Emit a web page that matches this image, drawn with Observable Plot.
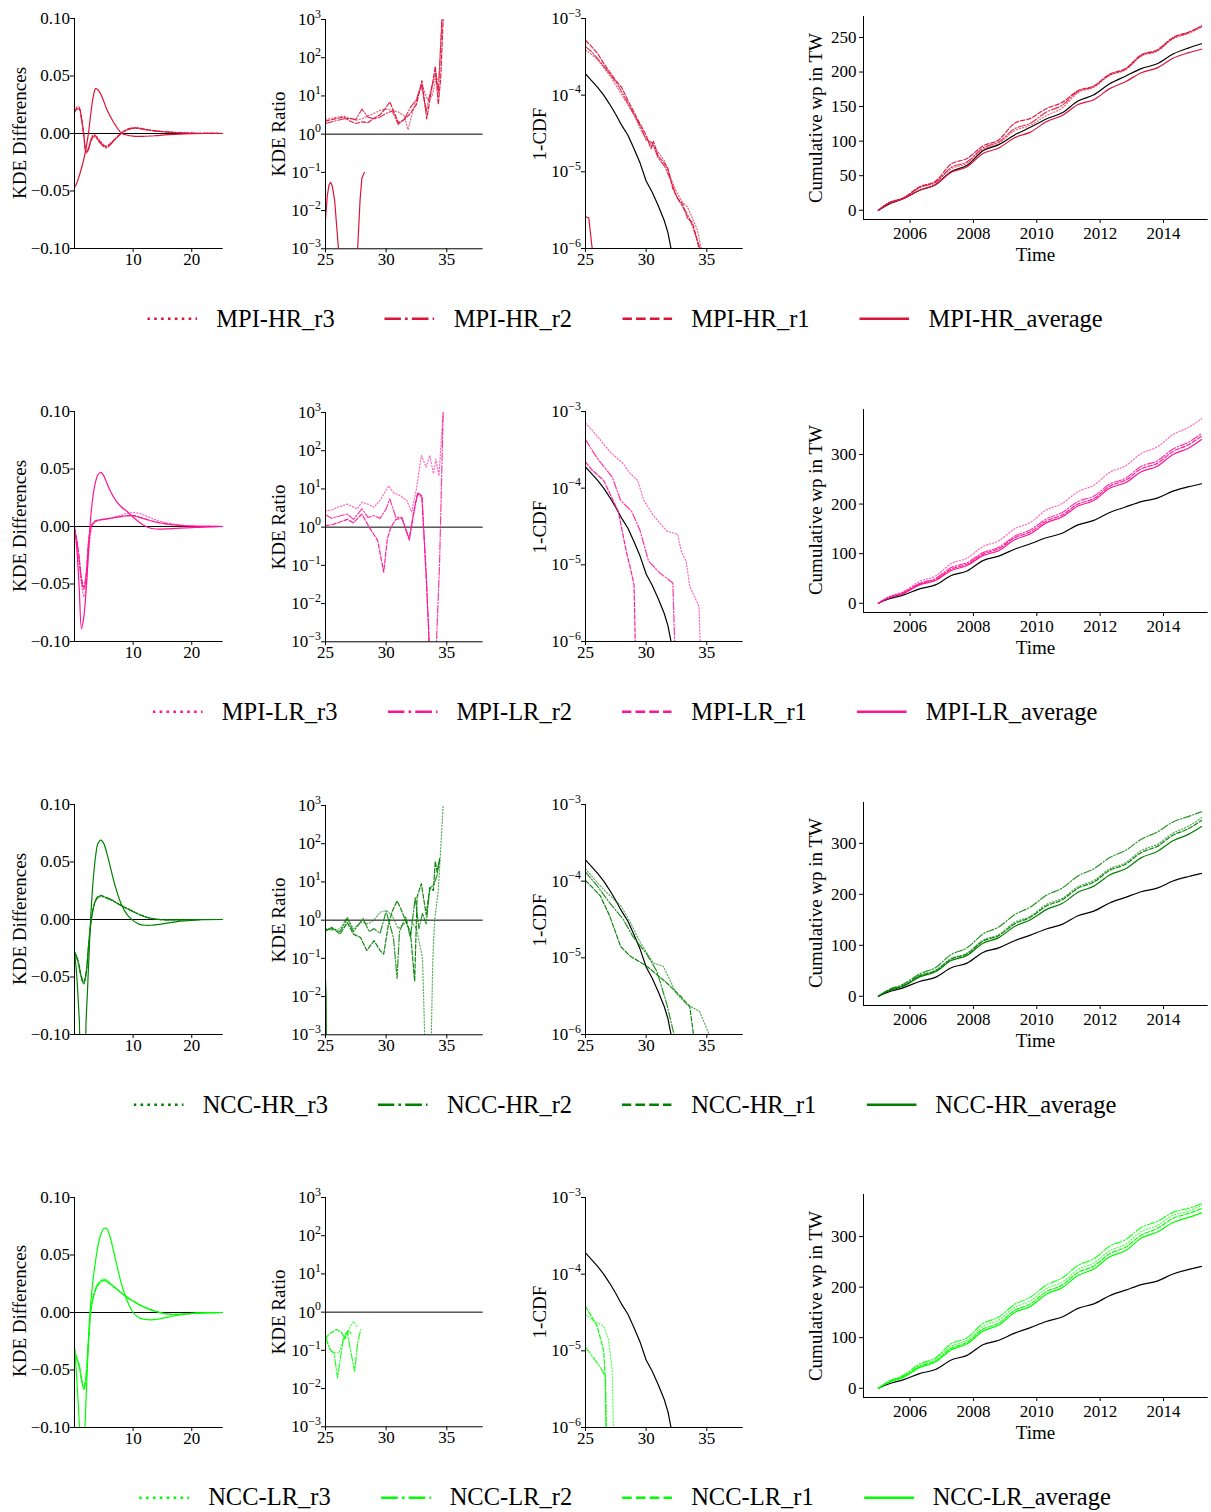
<!DOCTYPE html>
<html><head><meta charset="utf-8">
<script src="https://cdn.jsdelivr.net/npm/d3@7"></script>
<script src="https://cdn.jsdelivr.net/npm/@observablehq/plot@0.6"></script>
<style>
body{margin:0;background:#fff;}
#fig{position:relative;width:1211px;height:1512px;overflow:hidden;font-family:"Liberation Serif","Times New Roman",serif;color:#000;}
.ylab{position:absolute;font-size:19px;line-height:1;white-space:nowrap;transform:translate(-50%,-50%) rotate(-90deg);}
.xlab{position:absolute;font-size:19px;line-height:1;white-space:nowrap;transform:translate(-50%,-50%);}
.legend{position:absolute;display:flex;align-items:center;transform:translate(-50%,-50%);font-size:24.5px;line-height:1;white-space:nowrap;}
.item{display:flex;align-items:center;}
.item + .item{margin-left:50px;}
.item span{margin-left:19px;}
</style></head><body><div id="fig"></div>
<script>
// ---------------- DATA ----------------
const modelNames = ["MPI-HR", "MPI-LR", "NCC-HR", "NCC-LR"];
const modelColors = ["#DC143C", "#FF1493", "#008000", "#00FF00"];
const legendRuns = ["r3", "r2", "r1", "average"];

// KDE differences: shared x grid
const diffX = [0,0.4,0.8,1.2,1.6,2.0,2.4,2.8,3.2,3.6,4.0,4.5,5.0,5.5,6.0,7,8,9,10,11,12,13,14,16,18,20,22,25.3];
const diffTicks = [-0.1,-0.05,0,0.05,0.1];

const MPIHR_diff_avg = [-0.047,-0.043,-0.037,-0.030,-0.022,-0.012,0.001,0.018,0.032,0.039,0.038,0.034,0.028,0.021,0.016,0.007,0.0005,-0.0015,-0.0023,-0.0025,-0.0024,-0.0022,-0.0018,-0.001,-0.0005,-0.0002,0,0];
const MPIHR_diff_r1 = [0.019,0.022,0.022,0.013,-0.002,-0.016,-0.013,-0.006,-0.002,-0.002,-0.005,-0.008,-0.0105,-0.0115,-0.0095,-0.0045,0.0003,0.0035,0.0048,0.0046,0.0036,0.0028,0.0021,0.0013,0.0007,0.0003,0.0001,0];
const MPIHR_diff_r2 = [0.018,0.021,0.021,0.012,-0.003,-0.017,-0.014,-0.007,-0.003,-0.003,-0.006,-0.009,-0.0115,-0.0125,-0.0105,-0.005,0,0.003,0.0044,0.0043,0.0034,0.0026,0.002,0.0012,0.0006,0.0003,0.0001,0];
const MPIHR_diff_r3 = [0.020,0.023,0.023,0.014,-0.001,-0.015,-0.012,-0.005,-0.001,-0.0015,-0.004,-0.007,-0.0098,-0.0108,-0.009,-0.004,0.0006,0.0038,0.0051,0.0049,0.0038,0.003,0.0023,0.0014,0.0007,0.0003,0.0001,0];

const MPILR_diff_avg = [0,-0.02,-0.053,-0.089,-0.078,-0.054,-0.020,0.010,0.028,0.039,0.045,0.047,0.044,0.038,0.032,0.023,0.017,0.013,0.008,0.004,0.0005,-0.0015,-0.0022,-0.002,-0.0015,-0.001,-0.0005,0];
const MPILR_diff_r1 = [-0.002,-0.012,-0.027,-0.045,-0.053,-0.040,-0.013,0.000,0.003,0.005,0.0055,0.006,0.0063,0.0066,0.007,0.008,0.0088,0.0095,0.0095,0.0082,0.0065,0.005,0.0037,0.002,0.0008,0.0003,0.0001,0];
const MPILR_diff_r2 = [-0.002,-0.013,-0.029,-0.047,-0.055,-0.042,-0.015,-0.001,0.003,0.0048,0.0054,0.006,0.0062,0.0066,0.007,0.0078,0.0086,0.0092,0.0094,0.0083,0.0067,0.0052,0.0038,0.002,0.0009,0.0003,0.0001,0];
const MPILR_diff_r3 = [-0.002,-0.014,-0.032,-0.050,-0.061,-0.052,-0.025,-0.005,0.002,0.004,0.005,0.0055,0.006,0.0065,0.007,0.0085,0.010,0.0115,0.012,0.0115,0.0095,0.0075,0.0055,0.003,0.0014,0.0005,0.0002,0];

const NCCHR_diff_avg = [-0.028,-0.05,-0.085,-0.115,-0.115,-0.085,-0.04,0.005,0.035,0.055,0.066,0.069,0.066,0.058,0.048,0.028,0.013,0.004,-0.001,-0.004,-0.005,-0.005,-0.0045,-0.003,-0.0015,-0.0007,-0.0002,0];
const NCCHR_diff_r1 = [-0.028,-0.032,-0.040,-0.050,-0.054,-0.045,-0.022,-0.002,0.010,0.017,0.020,0.021,0.020,0.019,0.018,0.015,0.012,0.0095,0.007,0.0045,0.0025,0.001,0.0002,-0.0004,-0.0003,-0.0001,0,0];
const NCCHR_diff_r2 = [-0.030,-0.034,-0.042,-0.052,-0.056,-0.047,-0.024,-0.003,0.009,0.016,0.019,0.020,0.0195,0.0185,0.0175,0.0148,0.012,0.0093,0.0068,0.0044,0.0024,0.001,0.0002,-0.0004,-0.0003,-0.0001,0,0];
const NCCHR_diff_r3 = [-0.029,-0.033,-0.041,-0.051,-0.055,-0.046,-0.023,-0.002,0.010,0.0165,0.0195,0.0205,0.0198,0.019,0.018,0.0152,0.0122,0.0096,0.007,0.0046,0.0026,0.0011,0.0003,-0.0003,-0.0002,-0.0001,0,0];

const NCCLR_diff_avg = [-0.031,-0.058,-0.095,-0.13,-0.115,-0.072,-0.022,0.01,0.03,0.045,0.058,0.068,0.073,0.073,0.067,0.046,0.025,0.010,0.000,-0.0045,-0.006,-0.0064,-0.006,-0.004,-0.002,-0.001,-0.0004,0];
const NCCLR_diff_r1 = [-0.032,-0.040,-0.046,-0.058,-0.067,-0.055,-0.025,0.002,0.013,0.020,0.024,0.027,0.028,0.027,0.025,0.021,0.017,0.013,0.010,0.007,0.0045,0.0025,0.0008,-0.0015,-0.0015,-0.0008,-0.0003,0];
const NCCLR_diff_r2 = [-0.033,-0.041,-0.047,-0.059,-0.066,-0.053,-0.023,0.003,0.014,0.021,0.025,0.028,0.029,0.028,0.026,0.0215,0.017,0.0128,0.0098,0.0068,0.0043,0.0023,0.0007,-0.0016,-0.0015,-0.0008,-0.0003,0];
const NCCLR_diff_r3 = [-0.031,-0.039,-0.045,-0.057,-0.065,-0.054,-0.024,0.002,0.012,0.019,0.023,0.026,0.0275,0.0268,0.025,0.021,0.0172,0.0135,0.0103,0.0072,0.0047,0.0027,0.001,-0.0013,-0.0014,-0.0008,-0.0003,0];

// KDE ratio: [wind speed, ratio]
const ratioTicks = [1e-3,1e-2,1e-1,1,1e1,1e2,1e3];
const MPIHR_ratio_avg = [[25,0.006],[25.15,0.025],[25.3,0.048],[25.42,0.055],[25.55,0.045],[25.75,0.019],[25.95,0.003],[26.07,0.001],[26.2,1e-5],[27.5,1e-5],[27.65,0.001],[27.85,0.019],[28.0,0.07],[28.2,0.1]];
const MPIHR_ratio_r1 = [[25,2.2],[25.5,2.4],[26,2.6],[26.5,2.8],[27,2.2],[27.5,1.9],[28,2.1],[28.5,2.0],[29,2.6],[29.5,3.2],[30,5.0],[30.3,7.0],[30.7,3.5],[31,2.0],[31.5,2.4],[32,3.5],[32.5,6],[32.95,25],[33.35,2.5],[33.7,12],[34.05,60],[34.3,6],[34.5,30],[34.7,1000]];
const MPIHR_ratio_r2 = [[25,1.9],[25.5,2.1],[26,2.3],[26.5,2.5],[27,2.6],[27.5,2.4],[28,4.5],[28.5,2.8],[29,2.5],[29.5,2.8],[30,3.5],[30.5,4.0],[31,1.8],[31.5,2.5],[32,5],[32.5,8],[32.9,20],[33.3,4],[33.7,15],[34.1,40],[34.3,12],[34.6,1000]];
const MPIHR_ratio_r3 = [[25,2.4],[25.5,2.6],[26,2.8],[26.5,3.0],[27,2.6],[27.5,2.3],[28,2.5],[28.5,3.0],[29,3.5],[29.5,4.2],[30,4.5],[30.5,4.2],[31,3.8],[31.5,3.0],[31.8,1.3],[32.2,4],[32.6,10],[33,18],[33.4,8],[33.8,10],[34.1,30],[34.35,25],[34.6,1000]];

const MPILR_ratio_avg = [];
const MPILR_ratio_r1 = [[25,1.1],[25.5,1.15],[26,1.3],[26.8,1.6],[27.3,1.3],[28,2.2],[28.6,1.0],[29.3,0.45],[29.8,0.066],[30.1,0.5],[30.4,1.0],[30.8,1.6],[31.3,1.7],[31.9,0.5],[32.3,2.8],[32.6,8],[32.95,6.5],[33.3,0.06],[33.5,0.002],[33.6,1e-5]];
const MPILR_ratio_r2 = [[25,2.1],[25.5,1.7],[26,1.9],[26.8,2.2],[27.3,1.6],[28,3.0],[28.5,1.8],[29,2.0],[29.5,1.7],[30.0,3.0],[30.3,5.5],[30.8,1.8],[31.3,1.8],[31.9,0.45],[32.3,2.5],[32.6,7.5],[32.95,6],[33.3,0.05],[33.6,0.0005],[33.75,1e-5],[33.95,1e-5],[34.15,0.001],[34.4,0.1],[34.7,1000]];
const MPILR_ratio_r3 = [[25,2.7],[25.5,2.8],[26,3.3],[26.8,4],[27.6,3.0],[28,4.5],[28.5,4.0],[29,3.3],[29.5,5],[30.2,12],[30.6,8],[31.1,6.8],[31.7,5],[32.1,2.5],[32.5,10],[32.9,75],[33.3,37],[33.6,75],[33.9,25],[34.1,60],[34.35,22],[34.7,1000]];

const NCCHR_ratio_avg = [[25,0.028],[25.05,0.01],[25.1,1e-6]];
const NCCHR_ratio_r1 = [[25,0.52],[25.5,0.65],[26.2,0.43],[26.8,0.87],[27.3,0.43],[27.9,0.35],[28.4,0.16],[29,0.29],[29.5,0.16],[29.8,0.13],[30.2,0.8],[30.5,1.7],[30.9,3.2],[31.3,1.7],[31.7,0.8],[32.0,0.5],[32.35,0.025],[32.55,4],[32.9,9],[33.3,1.4],[33.6,7],[33.9,6],[34.05,35],[34.2,18],[34.45,44]];
const NCCHR_ratio_r2 = [[25,0.55],[25.5,0.6],[26.2,0.5],[26.8,1.1],[27.3,0.5],[28.1,1.1],[28.6,0.5],[29,0.6],[29.5,0.45],[30,1.7],[30.6,0.35],[30.9,0.03],[31.1,0.5],[31.6,1.2],[32,0.35],[32.4,4],[32.7,0.6],[33.0,1.5],[33.3,0.8],[33.6,7],[33.9,8],[34.2,15],[34.4,40]];
const NCCHR_ratio_r3 = [[25,0.6],[25.5,0.55],[26.2,0.6],[26.8,1.2],[27.3,0.6],[28,0.9],[28.5,0.8],[29,1.0],[29.5,1.6],[30,1.8],[30.5,1.3],[31,0.6],[31.5,0.8],[32,1.0],[32.5,0.6],[33.0,0.1],[33.35,1e-5],[33.6,1e-5],[33.85,0.1],[34.0,1.0],[34.3,6],[34.7,1000]];

const NCCLR_ratio_avg = [];
const NCCLR_ratio_r1 = [[25,0.21],[25.4,0.28],[25.9,0.35],[26.3,0.3],[26.6,0.2],[26.9,0.33],[27.1,0.28]];
const NCCLR_ratio_r2 = [[25,0.23],[25.4,0.10],[25.7,0.085],[26.0,0.019],[26.2,0.056],[26.5,0.23],[26.8,0.31],[27.0,0.126],[27.4,0.028],[27.65,0.155],[27.9,0.35]];
const NCCLR_ratio_r3 = [[25,0.19],[25.5,0.093],[26.1,0.085],[26.6,0.23],[27.0,0.4],[27.3,0.57],[27.6,0.42]];

// 1-CDF: [wind speed, exceedance]
const cdfTicks = [1e-6,1e-5,1e-4,1e-3];
const OBS_cdf = [[25,1.9e-4],[25.5,1.55e-4],[26,1.26e-4],[26.5,1.0e-4],[27,7.6e-5],[27.5,5.6e-5],[28,4.0e-5],[28.5,3.0e-5],[29,2.0e-5],[29.5,1.3e-5],[30,7.6e-6],[30.5,5.4e-6],[31,3.6e-6],[31.5,2.3e-6],[31.8,1.6e-6],[32.05,1.0e-6],[32.3,5e-7]];
const MPIHR_cdf_avg = [[25,2.6e-6],[25.27,2.5e-6],[25.55,1e-6],[25.65,1e-7]];
const MPIHR_cdf_r1 = [[25,5.2e-4],[25.5,4.3e-4],[26,3.5e-4],[26.5,2.6e-4],[27,2.0e-4],[27.5,1.55e-4],[28,1.25e-4],[28.5,8.5e-5],[29,6.0e-5],[29.5,4.2e-5],[30,3.0e-5],[30.4,2.0e-5],[30.6,2.5e-5],[31,1.6e-5],[31.5,1.3e-5],[31.8,1.1e-5],[32.2,6e-6],[32.6,4.5e-6],[33,3.8e-6],[33.4,2.5e-6],[33.8,2.2e-6],[34.1,1.5e-6],[34.35,1e-6],[34.5,5e-7]];
const MPIHR_cdf_r2 = [[25,4.3e-4],[25.5,3.7e-4],[26,3.0e-4],[26.5,2.4e-4],[27,1.9e-4],[27.5,1.5e-4],[28,1.1e-4],[28.5,7.8e-5],[29,5.6e-5],[29.5,4.0e-5],[30,2.6e-5],[30.5,2.4e-5],[31,1.5e-5],[31.5,1.2e-5],[32,8e-6],[32.5,4.8e-6],[33,3.5e-6],[33.4,2.8e-6],[33.8,2.0e-6],[34.2,1.3e-6],[34.45,1e-6],[34.6,5e-7]];
const MPIHR_cdf_r3 = [[25,3.9e-4],[25.5,3.4e-4],[26,2.9e-4],[26.5,2.3e-4],[27,1.8e-4],[27.5,1.35e-4],[28,1.0e-4],[28.5,7.5e-5],[29,5.5e-5],[29.5,3.7e-5],[30,2.7e-5],[30.5,2.2e-5],[31,1.8e-5],[31.5,1.4e-5],[32,8.5e-6],[32.5,5.5e-6],[33,4e-6],[33.4,3.5e-6],[33.8,2.5e-6],[34.2,1.8e-6],[34.55,1e-6],[34.7,5e-7]];

const MPILR_cdf_avg = [];
const MPILR_cdf_r1 = [[25,2.2e-4],[25.5,1.75e-4],[26.5,1.26e-4],[27.7,5.0e-5],[28.4,1.4e-5],[28.7,9.1e-6],[29.0,5.5e-6],[29.1,1e-6],[29.15,5e-7]];
const MPILR_cdf_r2 = [[25,4.3e-4],[25.5,3.2e-4],[26.1,2.3e-4],[27.2,1.4e-4],[27.9,6.9e-5],[28.8,5.0e-5],[29.5,2.8e-5],[30.2,1.12e-5],[31.1,7.9e-6],[32.2,5.8e-6],[32.35,1e-6],[32.4,5e-7]];
const MPILR_cdf_r3 = [[25,7.1e-4],[25.5,5.8e-4],[26.2,4.3e-4],[27,3.0e-4],[28.1,2.1e-4],[28.6,1.6e-4],[29.3,1.26e-4],[29.8,7.0e-5],[30.6,4.4e-5],[31.2,3.4e-5],[31.7,2.75e-5],[32.6,2.5e-5],[32.9,1.5e-5],[33.3,1.1e-5],[33.6,5.2e-6],[34,3.8e-6],[34.35,2.9e-6],[34.45,1e-6],[34.5,5e-7]];

const NCCHR_cdf_avg = [];
const NCCHR_cdf_r1 = [[25,1.02e-4],[25.5,8.5e-5],[26.2,6.5e-5],[27,3.5e-5],[27.9,1.4e-5],[28.7,1.05e-5],[30.05,7.8e-6],[31.7,4.7e-6],[32.8,3.2e-6],[33.6,2.3e-6],[33.9,1e-6],[34,5e-7]];
const NCCHR_cdf_r2 = [[25,1.32e-4],[25.96,8.7e-5],[27,5.2e-5],[28.1,3.2e-5],[28.9,1.9e-5],[30,1.15e-5],[30.9,6.6e-6],[31.7,2.5e-6],[32.3,1e-6],[32.4,5e-7]];
const NCCHR_cdf_r3 = [[25,1.45e-4],[26.2,8.7e-5],[27,6.5e-5],[27.9,4.8e-5],[28.7,2.9e-5],[29.5,1.6e-5],[30.6,8.5e-6],[31.4,7.8e-6],[32.5,3.4e-6],[33.3,2.5e-6],[34.4,2.0e-6],[35.2,1e-6],[35.3,5e-7]];

const NCCLR_cdf_avg = [];
const NCCLR_cdf_r1 = [[25,3.8e-5],[25.96,2.1e-5],[26.5,1.0e-5],[26.64,4.1e-6],[26.7,1e-6],[26.72,5e-7]];
const NCCLR_cdf_r2 = [[25,1.12e-5],[25.7,7.9e-6],[26.2,6.2e-6],[26.64,4.6e-6],[26.7,1e-6],[26.72,5e-7]];
const NCCLR_cdf_r3 = [[25,2.95e-5],[25.8,2.4e-5],[26.5,2.1e-5],[26.9,1.4e-5],[27.2,5.6e-6],[27.3,1e-6],[27.32,5e-7]];

// Cumulative wind power (TW): shared time grid
const cumX = [2005,2005.3,2005.8,2006.3,2006.8,2007.3,2007.8,2008.3,2008.8,2009.3,2009.8,2010.3,2010.8,2011.3,2011.8,2012.3,2012.8,2013.3,2013.8,2014.3,2014.8,2015.2];
const yearTicks = [2006,2008,2010,2012,2014];
const OBS_cum = [0,8,17,29,37,56,65,86,95,109,120,132,141,158,167,183,194,205,212,226,235,241];
const MPIHR_cum_avg = [0,9,17,29,37,55,63,82,90,105,113,128,137,153,160,176,186,199,206,220,228,233];
const MPIHR_cum_r1 = [0,10,18,34,42,67,75,93,102,126,133,147,156,173,180,197,205,225,232,250,258,266];
const MPIHR_cum_r2 = [0,10,18,33,40,62,70,90,99,118,126,142,152,172,179,196,204,224,231,249,257,267];
const MPIHR_cum_r3 = [0,10,18,33,41,60,68,88,97,115,123,137,148,170,178,195,203,223,230,248,256,265];
const MPILR_cum_avg = [0,10,20,37,46,66,76,96,106,128,140,162,174,196,207,232,243,265,276,300,313,330];
const MPILR_cum_r1 = [0,11,21,39,48,69,79,99,110,132,144,166,178,200,211,236,248,271,282,306,320,337];
const MPILR_cum_r2 = [0,11,22,40,50,72,82,102,113,135,148,170,183,205,216,240,252,276,287,311,325,342];
const MPILR_cum_r3 = [0,12,24,44,55,80,91,114,126,150,163,188,201,225,238,264,277,302,315,340,355,372];
const NCCHR_cum_avg = [0,10,20,38,48,70,80,104,115,137,150,170,182,204,216,238,250,272,284,305,318,333];
const NCCHR_cum_r1 = [0,11,21,40,50,73,83,108,119,142,155,177,189,212,224,247,259,282,294,316,329,345];
const NCCHR_cum_r2 = [0,12,24,44,56,82,95,122,136,160,175,198,212,236,250,272,286,308,322,342,353,362];
const NCCHR_cum_r3 = [0,11,22,41,51,74,85,110,121,145,157,180,192,215,227,250,262,286,298,320,334,350];
const NCCLR_cum_avg = [0,11,22,41,52,76,88,113,125,150,162,186,199,223,236,260,272,297,309,328,338,347];
const NCCLR_cum_r1 = [0,12,23,43,54,79,91,117,129,154,167,191,204,229,242,266,279,303,316,336,346,355];
const NCCLR_cum_r2 = [0,13,26,48,60,88,100,128,141,166,180,204,218,243,256,281,294,318,330,348,356,365];
const NCCLR_cum_r3 = [0,12,24,45,57,83,95,122,135,160,173,197,210,235,248,272,285,310,322,342,351,362];

// ---------------- BUILD ----------------
const rowsData = [
  {diff:[MPIHR_diff_avg,MPIHR_diff_r1,MPIHR_diff_r2,MPIHR_diff_r3], ratio:[MPIHR_ratio_avg,MPIHR_ratio_r1,MPIHR_ratio_r2,MPIHR_ratio_r3], cdf:[MPIHR_cdf_avg,MPIHR_cdf_r1,MPIHR_cdf_r2,MPIHR_cdf_r3], cum:[MPIHR_cum_avg,MPIHR_cum_r1,MPIHR_cum_r2,MPIHR_cum_r3], cumTicks:[0,50,100,150,200,250]},
  {diff:[MPILR_diff_avg,MPILR_diff_r1,MPILR_diff_r2,MPILR_diff_r3], ratio:[MPILR_ratio_avg,MPILR_ratio_r1,MPILR_ratio_r2,MPILR_ratio_r3], cdf:[MPILR_cdf_avg,MPILR_cdf_r1,MPILR_cdf_r2,MPILR_cdf_r3], cum:[MPILR_cum_avg,MPILR_cum_r1,MPILR_cum_r2,MPILR_cum_r3], cumTicks:[0,100,200,300]},
  {diff:[NCCHR_diff_avg,NCCHR_diff_r1,NCCHR_diff_r2,NCCHR_diff_r3], ratio:[NCCHR_ratio_avg,NCCHR_ratio_r1,NCCHR_ratio_r2,NCCHR_ratio_r3], cdf:[NCCHR_cdf_avg,NCCHR_cdf_r1,NCCHR_cdf_r2,NCCHR_cdf_r3], cum:[NCCHR_cum_avg,NCCHR_cum_r1,NCCHR_cum_r2,NCCHR_cum_r3], cumTicks:[0,100,200,300]},
  {diff:[NCCLR_diff_avg,NCCLR_diff_r1,NCCLR_diff_r2,NCCLR_diff_r3], ratio:[NCCLR_ratio_avg,NCCLR_ratio_r1,NCCLR_ratio_r2,NCCLR_ratio_r3], cdf:[NCCLR_cdf_avg,NCCLR_cdf_r1,NCCLR_cdf_r2,NCCLR_cdf_r3], cum:[NCCLR_cum_avg,NCCLR_cum_r1,NCCLR_cum_r2,NCCLR_cum_r3], cumTicks:[0,100,200,300]}
];

// series styles: index 0 = average (solid), 1 = r1 dashed, 2 = r2 dashdot, 3 = r3 dotted
const lw = 1.2;
const dashes = [null, [3.7,1.6], [6.4,1.6,1,1.6], [1,1.65]];
const seriesOpacity = [1, 0.95, 0.85, 0.65];
const dashStr = (i, s) => dashes[i] ? dashes[i].map(v => v*s).join(",") : null;

const fig = document.getElementById("fig");
const rowStep = 392.8;
const font = '"Liberation Serif","Times New Roman",serif';

const zip = (xs, ys) => xs.map((x, i) => ({x, y: ys[i]}));
const pairs = arr => arr.map(([x, y]) => ({x, y}));

function supFix(svg) {
  svg.querySelectorAll("text").forEach(t => {
    const m = t.textContent.match(/^10\^(-?\d+)$/);
    if (m) {
      t.textContent = "10";
      const ts = document.createElementNS("http://www.w3.org/2000/svg", "tspan");
      ts.setAttribute("dy", "-0.6em");
      ts.setAttribute("font-size", "0.7em");
      ts.textContent = m[1].replace("-", "\u2212");
      t.appendChild(ts);
    }
  });
}

function panel({top, x0, x1, y0, y1, x, y, xt, yt, xf, yf, marks, xPad = 0, yPad = 0.5}) {
  const mL = 70, mR = 12, mT = 14, mB = 34;
  const svg = Plot.plot({
    width: x1 - x0 + mL + mR, height: y1 - y0 + mT + mB,
    marginLeft: mL, marginRight: mR, marginTop: mT, marginBottom: mB,
    x, y,
    style: {fontFamily: font, fontSize: "17px", background: "transparent", overflow: "visible", color: "#000"},
    marks: [
      ...marks,
      Plot.ruleX([x.domain[0]], {stroke: "#000", strokeWidth: 1}),
      Plot.ruleY([y.domain[0]], {stroke: "#000", strokeWidth: 1}),
      Plot.axisX({ticks: xt, tickFormat: xf, tickSize: 4, tickPadding: xPad, fontSize: 17, label: null}),
      Plot.axisY({ticks: yt, tickFormat: yf, tickSize: 4, tickPadding: yPad, fontSize: 17, label: null})
    ]
  });
  svg.style.position = "absolute";
  svg.style.left = (x0 - mL) + "px";
  svg.style.top = (top + y0 - mT) + "px";
  supFix(svg);
  fig.appendChild(svg);
}

function addLabel(cls, text, cx, cy) {
  const d = document.createElement("div");
  d.className = cls; d.textContent = text;
  d.style.left = cx + "px"; d.style.top = cy + "px";
  fig.appendChild(d);
}

const logFmt = d => `10^${Math.round(Math.log10(d))}`;
const intFmt = d => `${d}`;

rowsData.forEach((row, k) => {
  const top = k * rowStep;
  const color = modelColors[k];
  const lineMark = (data, i, curve) => Plot.line(data, {x: "x", y: "y", stroke: color, strokeWidth: lw,
      strokeDasharray: dashStr(i, lw), strokeOpacity: seriesOpacity[i], curve, clip: true});
  const order = [0, 1, 2, 3];

  // Panel 1: KDE differences
  panel({top, x0: 74, x1: 222.7, y0: 18.3, y1: 248.3,
    x: {domain: [0, 25.36]}, y: {domain: [-0.1, 0.1]},
    xt: [10, 20], yt: diffTicks, xf: intFmt, yf: d3.format(".2f"),
    marks: [
      Plot.ruleY([0], {stroke: "#000", strokeWidth: 1}),
      ...order.map(i => lineMark(zip(diffX, row.diff[i]), i, "catmull-rom"))
    ]});
  addLabel("ylab", "KDE Differences", 18.5, top + 133);

  // Panel 2: KDE ratio
  panel({top, x0: 325, x1: 482.7, y0: 19, y1: 248.3,
    x: {domain: [25, 38]}, y: {type: "log", domain: [1e-3, 1e3]},
    xt: [25, 30, 35], yt: ratioTicks, xf: intFmt, yf: logFmt,
    marks: [
      Plot.ruleY([1], {stroke: "#000", strokeWidth: 1}),
      ...order.map(i => lineMark(pairs(row.ratio[i]), i, "linear"))
    ]});
  addLabel("ylab", "KDE Ratio", 277.5, top + 134);

  // Panel 3: 1-CDF
  panel({top, x0: 585, x1: 742.7, y0: 18.3, y1: 248.3,
    x: {domain: [25, 38]}, y: {type: "log", domain: [1e-6, 1e-3]},
    xt: [25, 30, 35], yt: cdfTicks, xf: intFmt, yf: logFmt,
    marks: [
      Plot.line(pairs(OBS_cdf), {x: "x", y: "y", stroke: "#000", strokeWidth: lw, clip: true}),
      ...order.map(i => lineMark(pairs(row.cdf[i]), i, "linear"))
    ]});
  addLabel("ylab", "1-CDF", 538.5, top + 134);

  // Panel 4: cumulative wind power
  const cmax = d3.max([OBS_cum, ...row.cum].flat());
  panel({top, x0: 863, x1: 1207.7, y0: 16, y1: 219,
    x: {domain: [2004.53, 2015.41]}, y: {domain: [-0.05 * cmax, 1.05 * cmax]},
    xt: yearTicks, yt: row.cumTicks, xf: intFmt, yf: intFmt, xPad: 3, yPad: 3,
    marks: [
      Plot.line(zip(cumX, OBS_cum), {x: "x", y: "y", stroke: "#000", strokeWidth: lw, curve: "monotone-x"}),
      ...[1, 2, 3, 0].map(i => lineMark(zip(cumX, row.cum[i]), i, "monotone-x"))
    ]});
  addLabel("ylab", "Cumulative wp in TW", 815, top + 117.5);
  addLabel("xlab", "Time", 1035.5, top + 254);

  // Legend
  const leg = document.createElement("div");
  leg.className = "legend";
  leg.style.left = "625px";
  leg.style.top = (top + 319) + "px";
  const styleIdx = {r3: 3, r2: 2, r1: 1, average: 0};
  legendRuns.forEach(run => {
    const i = styleIdx[run];
    const it = document.createElement("div");
    it.className = "item";
    const da = dashStr(i, 2.6);
    it.innerHTML = `<svg width="50" height="12"><line x1="0" x2="50" y1="6" y2="6" stroke="${color}" stroke-width="2.6" ${da ? `stroke-dasharray="${da}"` : ""}/></svg><span>${modelNames[k]}_${run}</span>`;
    leg.appendChild(it);
  });
  fig.appendChild(leg);
});
</script></body></html>
